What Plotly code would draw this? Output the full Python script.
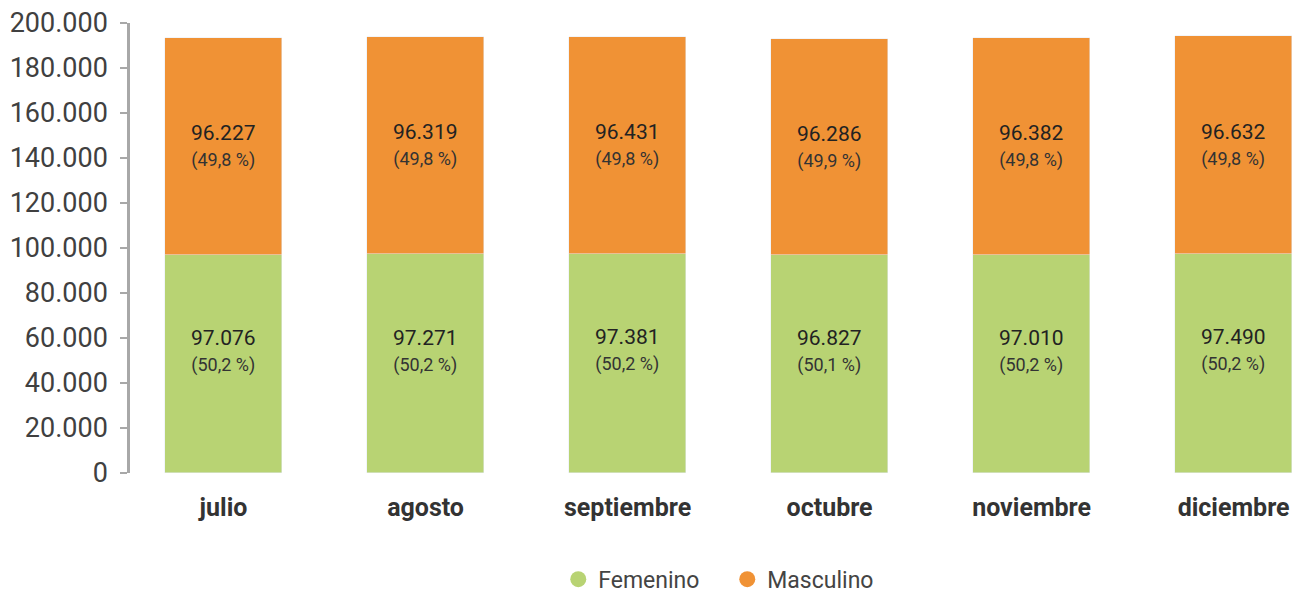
import plotly.graph_objects as go

meses = ["julio", "agosto", "septiembre", "octubre", "noviembre", "diciembre"]
femenino = [97076, 97271, 97381, 96827, 97010, 97490]
masculino = [96227, 96319, 96431, 96286, 96382, 96632]
fem_pct = ["50,2", "50,2", "50,2", "50,1", "50,2", "50,2"]
mas_pct = ["49,8", "49,8", "49,8", "49,9", "49,8", "49,8"]
y_ticks = [0, 20000, 40000, 60000, 80000, 100000, 120000, 140000, 160000, 180000, 200000]

VERDE = "#b8d373"
NARANJA = "#f09235"
FONT = "Roboto"

def fmt(v):
    return f"{v:,}".replace(",", ".")

def label(v, p):
    return (f"<span style='font-size:21px;color:#222222'>{fmt(v)}</span><br>"
            f"<span style='font-size:18px;color:#333333'>({p} %)</span>")

fig = go.Figure()
fig.add_trace(go.Bar(
    x=meses, y=femenino, name="Femenino", marker_color=VERDE, width=0.579,
    showlegend=False, hoverinfo="skip",
))
fig.add_trace(go.Bar(
    x=meses, y=masculino, name="Masculino", marker_color=NARANJA, width=0.579,
    text=[label(v, p) for v, p in zip(masculino, mas_pct)],
    textposition="inside", insidetextanchor="middle",
    textfont=dict(family=FONT, color="#222222", size=20), constraintext="none",
    showlegend=False, hoverinfo="skip",
))
# Femenino labels: drawn in the green segment, slightly above its centre as in the original
for m, v, p in zip(meses, femenino, fem_pct):
    fig.add_annotation(x=m, y=v / 2, text=label(v, p), showarrow=False, yshift=13,
                       font=dict(family=FONT, size=20, color="#222222"))

for nm, col in [("Femenino", VERDE), ("Masculino", NARANJA)]:
    fig.add_trace(go.Scatter(
        x=[None], y=[None], mode="markers", name=nm,
        marker=dict(symbol="circle", size=19, color=col),
    ))

fig.update_layout(
    barmode="stack",
    width=1302, height=594,
    margin=dict(l=130, r=10, t=23, b=121, pad=0, autoexpand=False),
    plot_bgcolor="white", paper_bgcolor="white",
    separators=",.",
    font=dict(family=FONT, color="#444444"),
    legend=dict(orientation="h", x=0.514, xanchor="center", y=-0.236, yanchor="middle",
                font=dict(family=FONT, size=23, color="#444444"), itemsizing="trace",
                traceorder="normal", tracegroupgap=0, itemwidth=30,
                entrywidth=124, entrywidthmode="pixels"),
    bargap=0,
)
fig.update_xaxes(
    type="category", range=[-0.463, 5.289], showline=False, ticks="",
    tickfont=dict(family=FONT, size=25, color="#333333", weight="bold"),
    ticklabelstandoff=17, showgrid=False, zeroline=False, automargin=False,
)
fig.update_yaxes(
    range=[0, 200000], tickvals=y_ticks, tickformat=",d",
    showline=True, linecolor="#a8a8a8", linewidth=2.5,
    ticks="outside", ticklen=7, tickcolor="#a8a8a8", tickwidth=2,
    tickfont=dict(family=FONT, size=27, color="#404040"),
    ticklabelstandoff=7, showgrid=False, zeroline=False, automargin=False,
)

fig.write_html("out.html", config={"displayModeBar": False})

# remove the default page margin so the figure sits at the window's top-left corner
with open("out.html", "r", encoding="utf-8") as f:
    html = f.read()
html = html.replace("<head>", "<head><style>html,body{margin:0;padding:0;overflow:hidden;}</style>", 1)
with open("out.html", "w", encoding="utf-8") as f:
    f.write(html)
